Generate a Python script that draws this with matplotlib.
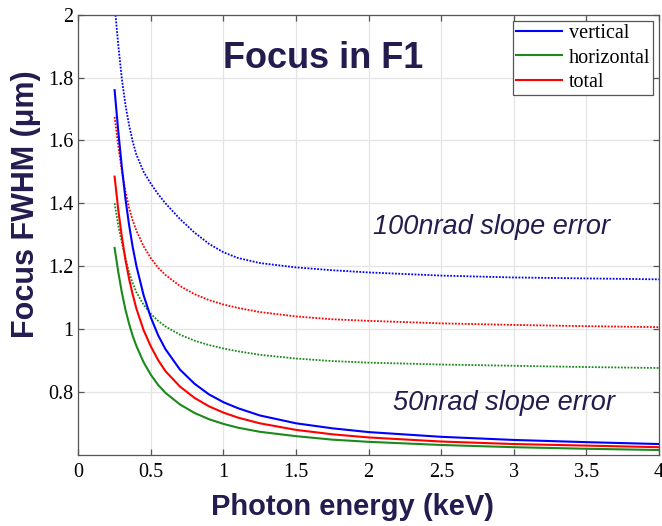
import matplotlib

matplotlib.use("Agg")

import matplotlib.pyplot as plt
from matplotlib.ticker import FuncFormatter

# photon energy (keV)
energy = [0.25, 0.275, 0.3, 0.325, 0.35, 0.375, 0.4, 0.45, 0.5, 0.55, 0.6, 0.7, 0.8, 0.9,
          1.0, 1.1, 1.25, 1.5, 1.75, 2.0, 2.5, 3.0, 3.5, 4.0]

# 100 nrad slope error (dotted)
vert_100 = [2.03, 1.905, 1.795, 1.712, 1.648, 1.596, 1.555, 1.50, 1.462, 1.429, 1.40, 1.35,
            1.307, 1.271, 1.244, 1.226, 1.21, 1.196, 1.187, 1.180, 1.170, 1.164, 1.161, 1.158]
horiz_100 = [1.40, 1.33, 1.275, 1.225, 1.18, 1.145, 1.117, 1.077, 1.048, 1.026, 1.008, 0.982,
             0.963, 0.949, 0.938, 0.929, 0.918, 0.906, 0.898, 0.893, 0.887, 0.883, 0.879, 0.876]
total_100 = [1.675, 1.583, 1.502, 1.437, 1.385, 1.345, 1.313, 1.263, 1.225, 1.195, 1.172, 1.137,
             1.111, 1.092, 1.078, 1.067, 1.054, 1.040, 1.031, 1.026, 1.018, 1.013, 1.009, 1.006]

# 50 nrad slope error (solid)
vert_50 = [1.76, 1.63, 1.515, 1.413, 1.330, 1.260, 1.201, 1.107, 1.036, 0.980, 0.936, 0.871,
           0.826, 0.792, 0.767, 0.748, 0.725, 0.700, 0.684, 0.672, 0.657, 0.647, 0.640, 0.634]
horiz_50 = [1.258, 1.182, 1.116, 1.061, 1.016, 0.978, 0.946, 0.894, 0.854, 0.822, 0.797, 0.760,
            0.733, 0.713, 0.698, 0.686, 0.673, 0.659, 0.648, 0.641, 0.631, 0.624, 0.619, 0.615]
total_50 = [1.485, 1.380, 1.293, 1.219, 1.159, 1.109, 1.065, 0.996, 0.944, 0.901, 0.866, 0.817,
            0.781, 0.754, 0.734, 0.718, 0.700, 0.679, 0.665, 0.655, 0.642, 0.634, 0.629, 0.624]

x_ticks = [0, 0.5, 1, 1.5, 2, 2.5, 3, 3.5, 4]
y_ticks = [0.8, 1.0, 1.2, 1.4, 1.6, 1.8, 2.0]

BLUE = "#0000ff"
GREEN = "#1b8a1b"
RED = "#ff0000"
NAVY = "#241c4f"
DOT = (0, (1, 0.8))

fig = plt.figure(figsize=(6.62, 5.26), dpi=100)
ax = fig.add_axes([0.1183, 0.1355, 0.8772, 0.8365])

ax.plot(energy, vert_100, color=BLUE, linestyle=DOT, linewidth=1.3)
ax.plot(energy, total_100, color=RED, linestyle=DOT, linewidth=1.3)
ax.plot(energy, horiz_100, color=GREEN, linestyle=DOT, linewidth=1.3)

ax.plot(energy, vert_50, color=BLUE, linewidth=1.5, label="vertical")
ax.plot(energy, horiz_50, color=GREEN, linewidth=1.5, label="horizontal")
ax.plot(energy, total_50, color=RED, linewidth=1.5, label="total")

ax.set_xlim(0, 4)
ax.set_ylim(0.6, 2.0)
ax.set_xticks(x_ticks)
ax.set_yticks(y_ticks)
fmt = FuncFormatter(lambda v, pos: f"{v:g}")
ax.xaxis.set_major_formatter(fmt)
ax.yaxis.set_major_formatter(fmt)

ax.grid(True, color="#e4e4e4", linewidth=0.9)
ax.set_axisbelow(True)
ax.tick_params(direction="in", length=4, width=0.9, color="#555555",
               top=True, right=True, labelsize=14.5)
ax.tick_params(axis="x", pad=6)
ax.tick_params(axis="y", pad=3.5)
for label in ax.get_xticklabels() + ax.get_yticklabels():
    label.set_fontfamily("Liberation Serif")
for spine in ax.spines.values():
    spine.set_color("#555555")
    spine.set_linewidth(0.9)

leg = ax.legend(loc="upper right", bbox_to_anchor=(0.9897, 0.986), borderaxespad=0,
                prop={"family": "Liberation Serif", "size": 14.5},
                handlelength=2.3, handletextpad=0.3, labelspacing=0.27,
                borderpad=0.15, fancybox=False, framealpha=1)
leg.get_frame().set_edgecolor("#555555")
leg.get_frame().set_linewidth(0.9)

ax.text(2.03, 1.302, "100nrad slope error", fontsize=19.5, style="italic",
        family="Liberation Sans", color=NAVY, ha="left", va="baseline")
ax.text(2.167, 0.741, "50nrad slope error", fontsize=19.5, style="italic",
        family="Liberation Sans", color=NAVY, ha="left", va="baseline")

fig.text(323.5 / 662, 1 - 68.3 / 526, "Focus in F1", fontsize=26, fontweight="bold",
         family="Liberation Sans", color=NAVY, ha="center", va="baseline")
fig.text(353 / 662, 1 - 507 / 526, "Photon energy (keV)", fontsize=21, fontweight="bold",
         family="Liberation Sans", color=NAVY, ha="center", va="center")
fig.text(26.5 / 662, 1 - 204 / 526, "Focus FWHM (\u03bcm)", fontsize=22, fontweight="bold",
         family="Liberation Sans", color=NAVY, ha="center", va="center", rotation=90)

fig.savefig("out.png", dpi=100)
